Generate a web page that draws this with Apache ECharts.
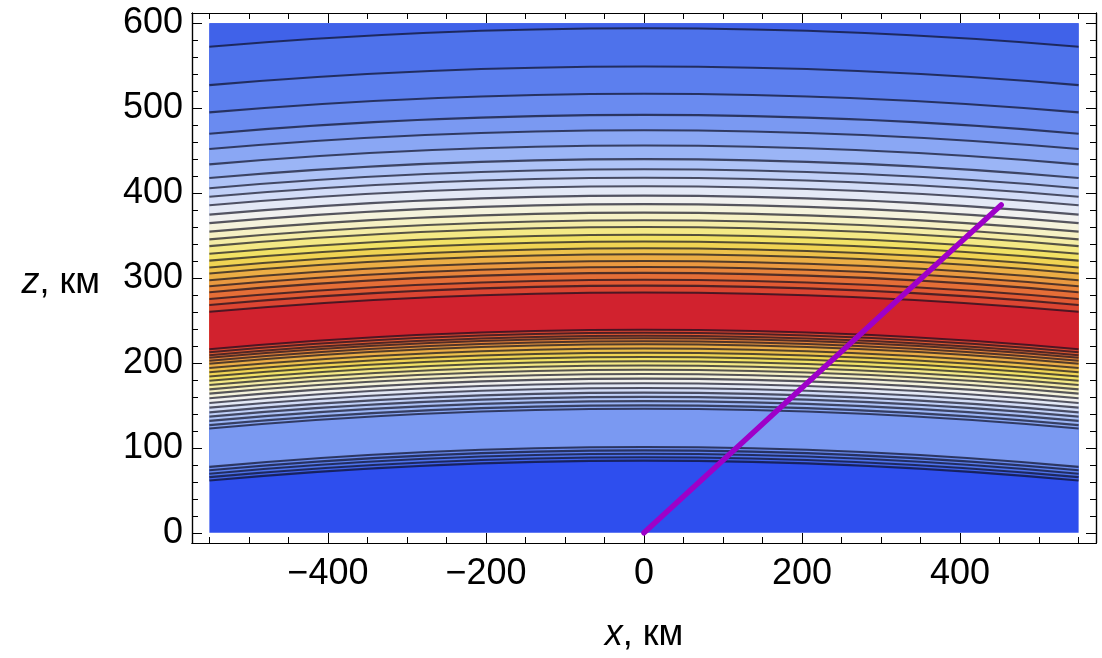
<!DOCTYPE html>
<html>
<head>
<meta charset="utf-8">
<script src="https://cdn.jsdelivr.net/npm/echarts@6/dist/echarts.min.js"></script>
<style>
html,body{margin:0;padding:0;background:#fff;}
#chart{width:1102px;height:658px;}
</style>
</head>
<body>
<div id="chart"></div>
<script>
// ---- data ----
// contour levels L0..L25: height (km) where each contour crosses x = 0
// below the layer peak and above it (L0 is only crossed below)
const bottomSideKm = [85, 89, 93, 97, 101, 146, 150, 155, 160, 165, 170.5, 176, 181.5, 187, 192, 197, 202, 207, 212, 217, 222, 225.5, 229, 232, 235.5, 239];
const topSideKm    = [null, 594, 549, 517, 492, 474, 456, 440, 428, 418, 408, 397, 387, 377, 368, 360, 351, 343, 335, 328, 320, 313, 306, 298, 291, 283];
// fill colour of band b (b = 0 below L0 ... 26 above L25)
const bandColors = ['#2E4EEE', '#4062E9', '#4E72EB', '#5C7FEE', '#6A8BF0', '#7A99F2', '#8AA7F4', '#9BB5F6', '#AEC3F7', '#C0D0F8', '#D3DDF8', '#E4E9F6', '#F1F1EF', '#F5F3DC', '#F6F1C4', '#F5EDA6', '#F4E985', '#F2E265', '#F0D453', '#EEC24B', '#ECAE45', '#EA9940', '#E8843B', '#E56E37', '#E15A33', '#DC4532', '#D1222E'];
const rayPoints = [[0, 0], [452, 386]];
const plotX = [-550, 550];
const plotZ = [0, 600];
const xMajorTicks = [-400, -200, 0, 200, 400];
const xMinorTicks = [-550, -500, -450, -350, -300, -250, -150, -100, -50, 50, 100, 150, 250, 300, 350, 450, 500, 550];
const zMajorTicks = [0, 100, 200, 300, 400, 500, 600];
const zMinorTicks = [20, 40, 60, 80, 120, 140, 160, 180, 220, 240, 260, 280, 320, 340, 360, 380, 420, 440, 460, 480, 520, 540, 560, 580];
const EARTH_RADIUS_KM = 6371;

// ---- helpers ----
const FONT = "'Liberation Sans', Arial, Helvetica, sans-serif";
function edgeZ(h) { // height of a constant-altitude curve at the plot edge
  const R = EARTH_RADIUS_KM, X = plotX[1];
  return Math.sqrt((R + h) * (R + h) - X * X) - R;
}
function curvePts(api, h) {
  const ze = edgeZ(h);
  return {
    l: api.coord([plotX[0], ze]),
    c: api.coord([0, 2 * h - ze]),
    r: api.coord([plotX[1], ze])
  };
}
const levelIdx = bottomSideKm.map((_, i) => [i]);

function renderFill(params, api) {
  const k = api.value(0);
  if (k < 0) {
    const p0 = api.coord([plotX[0], plotZ[1]]);
    const p1 = api.coord([plotX[1], plotZ[0]]);
    return { type: 'rect', shape: { x: p0[0], y: p0[1], width: p1[0] - p0[0], height: p1[1] - p0[1] },
             style: { fill: bandColors[0] } };
  }
  const b = curvePts(api, bottomSideKm[k]);
  let d = `M${b.l[0]} ${b.l[1]} Q${b.c[0]} ${b.c[1]} ${b.r[0]} ${b.r[1]} `;
  const ht = topSideKm[k];
  if (ht == null) {
    const tr = api.coord([plotX[1], plotZ[1]]);
    const tl = api.coord([plotX[0], plotZ[1]]);
    d += `L${tr[0]} ${tr[1]} L${tl[0]} ${tl[1]} Z`;
  } else {
    const t = curvePts(api, ht);
    d += `L${t.r[0]} ${t.r[1]} Q${t.c[0]} ${t.c[1]} ${t.l[0]} ${t.l[1]} Z`;
  }
  return { type: 'path', shape: { pathData: d }, style: { fill: bandColors[k + 1], stroke: null } };
}
function renderLines(params, api) {
  const k = api.value(0);
  const children = [];
  [bottomSideKm[k], topSideKm[k]].forEach(h => {
    if (h == null) return;
    const p = curvePts(api, h);
    children.push({ type: 'bezierCurve',
      shape: { x1: p.l[0], y1: p.l[1], x2: p.r[0], y2: p.r[1], cpx1: p.c[0], cpy1: p.c[1] },
      style: { stroke: 'rgba(10,10,30,0.68)', lineWidth: 2.1, fill: null } });
  });
  return { type: 'group', children };
}

const fmt = v => (v < 0 ? '\u2212' + Math.abs(v) : String(v));
const tickStyle = { color: '#000', width: 1 };
const lineStyle = { color: '#000', width: 1.2 };
function xAxisDef(pos, ticks, len, labels) {
  return {
    type: 'value', position: pos, min: -572, max: 572,
    axisLine: { show: true, onZero: false, lineStyle },
    axisTick: { show: true, inside: true, length: len, customValues: ticks, lineStyle: tickStyle },
    axisLabel: labels ? { show: true, customValues: ticks, formatter: fmt, fontSize: 36, color: '#000', fontFamily: FONT, margin: 13 } : { show: false },
    splitLine: { show: false }
  };
}
function yAxisDef(pos, ticks, len, labels) {
  return {
    type: 'value', position: pos, min: -12, max: 612,
    axisLine: { show: true, onZero: false, lineStyle },
    axisTick: { show: true, inside: true, length: len, customValues: ticks, lineStyle: tickStyle },
    axisLabel: labels ? { show: true, customValues: ticks, formatter: fmt, fontSize: 36, color: '#000', fontFamily: FONT, margin: 9 } : { show: false },
    splitLine: { show: false }
  };
}
const xAxes = [
  xAxisDef('bottom', xMajorTicks, 10, true),
  xAxisDef('bottom', xMinorTicks, 6, false),
  xAxisDef('top', xMajorTicks, 10, false),
  xAxisDef('top', xMinorTicks, 6, false)
];
Object.assign(xAxes[0], {
  name: '{i|x}, км', nameLocation: 'middle', nameGap: 74,
  nameTextStyle: { fontSize: 36, color: '#000', fontFamily: FONT,
    rich: { i: { fontSize: 36, fontStyle: 'italic', fontFamily: FONT, color: '#000' } } }
});
const yAxes = [
  yAxisDef('left', zMajorTicks, 10, true),
  yAxisDef('left', zMinorTicks, 6, false),
  yAxisDef('right', zMajorTicks, 10, false),
  yAxisDef('right', zMinorTicks, 6, false)
];
Object.assign(yAxes[0], {
  name: '{i|z}, км', nameLocation: 'middle', nameRotate: 0, nameGap: 92,
  nameTextStyle: { fontSize: 36, color: '#000', fontFamily: FONT, padding: [10, 0, 0, 0],
    rich: { i: { fontSize: 36, fontStyle: 'italic', fontFamily: FONT, color: '#000' } } }
});

const chart = echarts.init(document.getElementById('chart'), null, { renderer: 'canvas' });
chart.setOption({
  animation: false,
  backgroundColor: '#fff',
  grid: { left: 192, top: 13, width: 904, height: 530, containLabel: false },
  xAxis: xAxes,
  yAxis: yAxes,
  series: [
    { type: 'custom', name: 'bands', xAxisIndex: 0, yAxisIndex: 0, renderItem: renderFill,
      data: [[-1]].concat(levelIdx), z: 1, silent: true, clip: true },
    { type: 'custom', name: 'contours', xAxisIndex: 0, yAxisIndex: 0, renderItem: renderLines,
      data: levelIdx, z: 2, silent: true, clip: true },
    { type: 'line', name: 'ray', xAxisIndex: 0, yAxisIndex: 0, data: rayPoints, symbol: 'none',
      lineStyle: { color: '#9E00C8', width: 5.5, cap: 'round' }, z: 5, silent: true }
  ]
});
</script>
</body>
</html>
